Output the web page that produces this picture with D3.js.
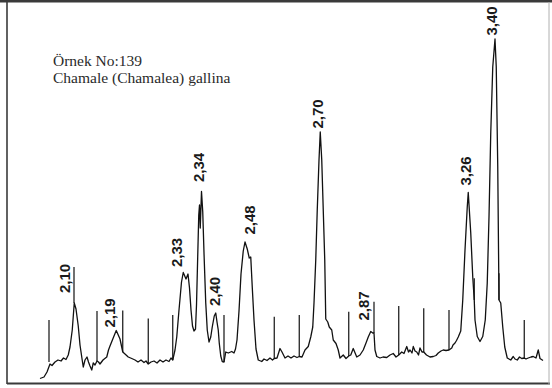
<!DOCTYPE html>
<html>
<head>
<meta charset="utf-8">
<script src="https://cdn.jsdelivr.net/npm/d3@7"></script>
<style>
  html, body { margin: 0; padding: 0; background: #fff; }
  svg { display: block; }
  .title { font-family: "Liberation Serif", "DejaVu Serif", serif; }
  .peak { font-family: "Liberation Sans Narrow", "Liberation Sans", Arial, sans-serif; font-weight: bold; }
</style>
</head>
<body>
<svg id="chart" width="552" height="388"></svg>
<script>
// Diffractogram, sample 139 (Chamalea gallina): 2θ (deg, Cu Kα) against counts
const twoTheta = [
  44.36, 44.20, 44.08, 43.96, 43.88, 43.76, 43.64, 43.52, 43.42, 43.32,
  43.23, 43.16, 43.07, 42.99, 42.92, 42.83, 42.76, 42.69, 42.63, 42.56,
  42.48, 42.42, 42.36, 42.29, 42.23, 42.16, 42.08, 42.02, 41.96, 41.84,
  41.69, 41.62, 41.56, 41.48, 41.40, 41.31, 41.23, 41.16, 41.05, 40.96,
  40.83, 40.69, 40.56, 40.44, 40.32, 40.20, 40.12, 40.03, 39.92, 39.80,
  39.68, 39.56, 39.44, 39.32, 39.20, 39.12, 39.05, 38.96, 38.89, 38.80,
  38.70, 38.63, 38.52, 38.44, 38.38, 38.32, 38.26, 38.20, 38.14, 38.10,
  38.05, 38.01, 37.98, 37.95, 37.90, 37.85, 37.80, 37.73, 37.67, 37.60,
  37.53, 37.47, 37.39, 37.33, 37.28, 37.23, 37.19, 37.13, 37.07, 37.00,
  36.93, 36.83, 36.69, 36.60, 36.54, 36.48, 36.40, 36.32, 36.23, 36.16,
  36.07, 35.99, 35.93, 35.87, 35.80, 35.72, 35.63, 35.49, 35.40, 35.28,
  35.16, 35.06, 34.99, 34.88, 34.76, 34.68, 34.56, 34.44, 34.32, 34.20,
  34.08, 33.99, 33.88, 33.76, 33.63, 33.53, 33.45, 33.40, 33.33, 33.27,
  33.20, 33.15, 33.09, 33.03, 32.97, 32.93, 32.85, 32.79, 32.69, 32.63,
  32.52, 32.43, 32.36, 32.23, 32.12, 32.01, 31.93, 31.83, 31.69, 31.56,
  31.43, 31.32, 31.23, 31.13, 31.05, 31.00, 30.96, 30.89, 30.76, 30.64,
  30.49, 30.36, 30.23, 30.12, 30.01, 29.89, 29.80, 29.69, 29.62, 29.56,
  29.48, 29.43, 29.36, 29.29, 29.22, 29.16, 29.08, 29.01, 28.90, 28.76,
  28.63, 28.52, 28.43, 28.32, 28.23, 28.12, 28.00, 27.89, 27.84, 27.76,
  27.70, 27.63, 27.53, 27.45, 27.36, 27.27, 27.23, 27.13, 27.05, 26.99,
  26.96, 26.87, 26.76, 26.65, 26.55, 26.47, 26.40, 26.33, 26.25, 26.16,
  26.11, 26.05, 26.00, 25.93, 25.85, 25.77, 25.67, 25.53, 25.43, 25.36,
  25.27, 25.18, 25.09, 24.99, 24.92, 24.83, 24.72, 24.63, 24.52, 24.43,
  24.36, 24.24
];
const counts = [
    55,   70,  120,  200,  185,  220,  240,  230,  260,  245,
   290,  370,  540,  810,  750,  580,  390,  270,  170,  240,
   270,  220,  180,  140,  210,  190,  230,  220,  200,  240,
   270,  340,  380,  430,  480,  535,  490,  450,  320,  300,
   270,  255,  240,  220,  240,  215,  230,  200,  220,  230,
   210,  240,  220,  240,  225,  260,  240,  340,  470,  740,
  1020, 1115, 1050, 1100,  960,  740,  580,  530,  550,  790,
  1290, 1690, 1790, 1560, 1925, 1720, 1310,  810,  540,  420,
   470,  570,  680,  710,  620,  540,  410,  280,  225,  220,
   320,  310,  325,  310,  350,  440,  730, 1100, 1330, 1420,
  1350, 1260, 1270,  970,  640,  350,  240,  225,  250,  235,
   260,  240,  255,  260,  355,  320,  260,  280,  260,  280,
   265,  275,  270,  340,  375,  470,  570,  810, 1240, 1740,
  2240, 2520, 2240, 1740, 1240,  650,  620,  570,  540,  440,
   405,  340,  260,  290,  255,  280,  290,  355,  270,  290,
   340,  410,  470,  525,  510,  510,  340,  275,  260,  270,
   265,  290,  305,  270,  290,  320,  305,  375,  320,  340,
   310,  375,  330,  320,  290,  360,  320,  320,  290,  270,
   275,  285,  310,  330,  340,  335,  340,  360,  390,  410,
   435,  470,  530,  840, 1340, 1770, 1915, 1510, 1070,  840,
   640,  475,  425,  475,  640, 1010, 1670, 2510, 3170, 3450,
  3170, 2170,  840,  810,  570,  370,  260,  240,  275,  250,
   240,  270,  255,  260,  250,  260,  270,  275,  260,  340,
   255,  235
];

// One-degree marker strokes written into the scan
const markerTheta = [44.0, 43.0, 42.08, 41.05, 40.03, 39.05, 37.0, 34.99, 33.99, 32.01, 31.0, 30.01, 29.01, 28.0, 26.99, 26.0, 24.99];
const markerBase  = [ 220,  810,  230,   320,   200,   240,  220,   255,   275,   280,  510,   290,   320,  340,   840,  840,   260];
const markerTop   = [ 640, 1170,  730,   735,   655,   690,  690,   673,   690,   723,  823,   780,   757,  740,  1057, 1107,   640];

// d-spacing annotations (Å) and where each one is written
const peakLabels     = ["2,10", "2,19", "2,33", "2,34", "2,40", "2,48", "2,70", "2,87", "3,26", "3,40"];
const peakLabelTheta = [43.38, 41.56, 38.90, 38.00, 37.36, 35.98, 33.26, 31.40, 27.32, 26.30];
const peakLabelCount = [  910,   565,  1170,  2020,   780,  1495,  2555,   635,  1985,  3485];

const sampleTitle = ["Örnek No:139", "Chamale (Chamalea) gallina"];

const W = 552, H = 388;
const frame = { left: 7, top: 2, right: 549, bottom: 384 };

const svg = d3.select("#chart");

const x = d3.scaleLinear().domain([45.68, 24.0]).range([frame.left, frame.right]);
const y = d3.scaleLinear().domain([0, 3450]).range([frame.bottom, 39]);

// frame
svg.append("line").attr("x1", 0).attr("x2", W).attr("y1", 1.2).attr("y2", 1.2)
  .attr("stroke", "#3a3a3a").attr("stroke-width", 2.4);
svg.append("line").attr("x1", frame.left).attr("x2", frame.left).attr("y1", 0).attr("y2", frame.bottom)
  .attr("stroke", "#3a3a3a").attr("stroke-width", 1.6);
svg.append("line").attr("x1", frame.left).attr("x2", frame.right + 1).attr("y1", frame.bottom - 0.5).attr("y2", frame.bottom - 0.5)
  .attr("stroke", "#3a3a3a").attr("stroke-width", 1.8);
svg.append("line").attr("x1", frame.right).attr("x2", frame.right).attr("y1", 2).attr("y2", frame.bottom)
  .attr("stroke", "#b0b0b0").attr("stroke-width", 1);

// scan trace
const points = twoTheta.map((t, i) => [t, counts[i]]);
const line = d3.line().x(d => x(d[0])).y(d => y(d[1]));
svg.append("path")
  .attr("d", line(points))
  .attr("fill", "none")
  .attr("stroke", "#111")
  .attr("stroke-width", 1.3)
  .attr("stroke-linejoin", "round");

// marker strokes
svg.append("g").selectAll("line")
  .data(markerTheta.map((t, i) => ({ t, b: markerBase[i], top: markerTop[i] })))
  .join("line")
  .attr("x1", d => x(d.t)).attr("x2", d => x(d.t))
  .attr("y1", d => y(d.b)).attr("y2", d => y(d.top))
  .attr("stroke", "#111").attr("stroke-width", 1.2);

// peak annotations, written upward
svg.append("g").selectAll("text")
  .data(peakLabels.map((s, i) => ({ s, t: peakLabelTheta[i], c: peakLabelCount[i] })))
  .join("text")
  .attr("class", "peak")
  .attr("transform", d => `translate(${x(d.t)},${y(d.c)}) rotate(-90)`)
  .attr("dy", "0.36em")
  .attr("text-anchor", "start")
  .attr("font-size", 15)
  .attr("fill", "#1a1a1a")
  .text(d => d.s);

// sample title
svg.append("g").selectAll("text")
  .data(sampleTitle)
  .join("text")
  .attr("class", "title")
  .attr("x", 53)
  .attr("y", (d, i) => 66 + i * 16.5)
  .attr("font-size", 15.5)
  .attr("fill", "#2a2a2a")
  .text(d => d);
</script>
</body>
</html>
